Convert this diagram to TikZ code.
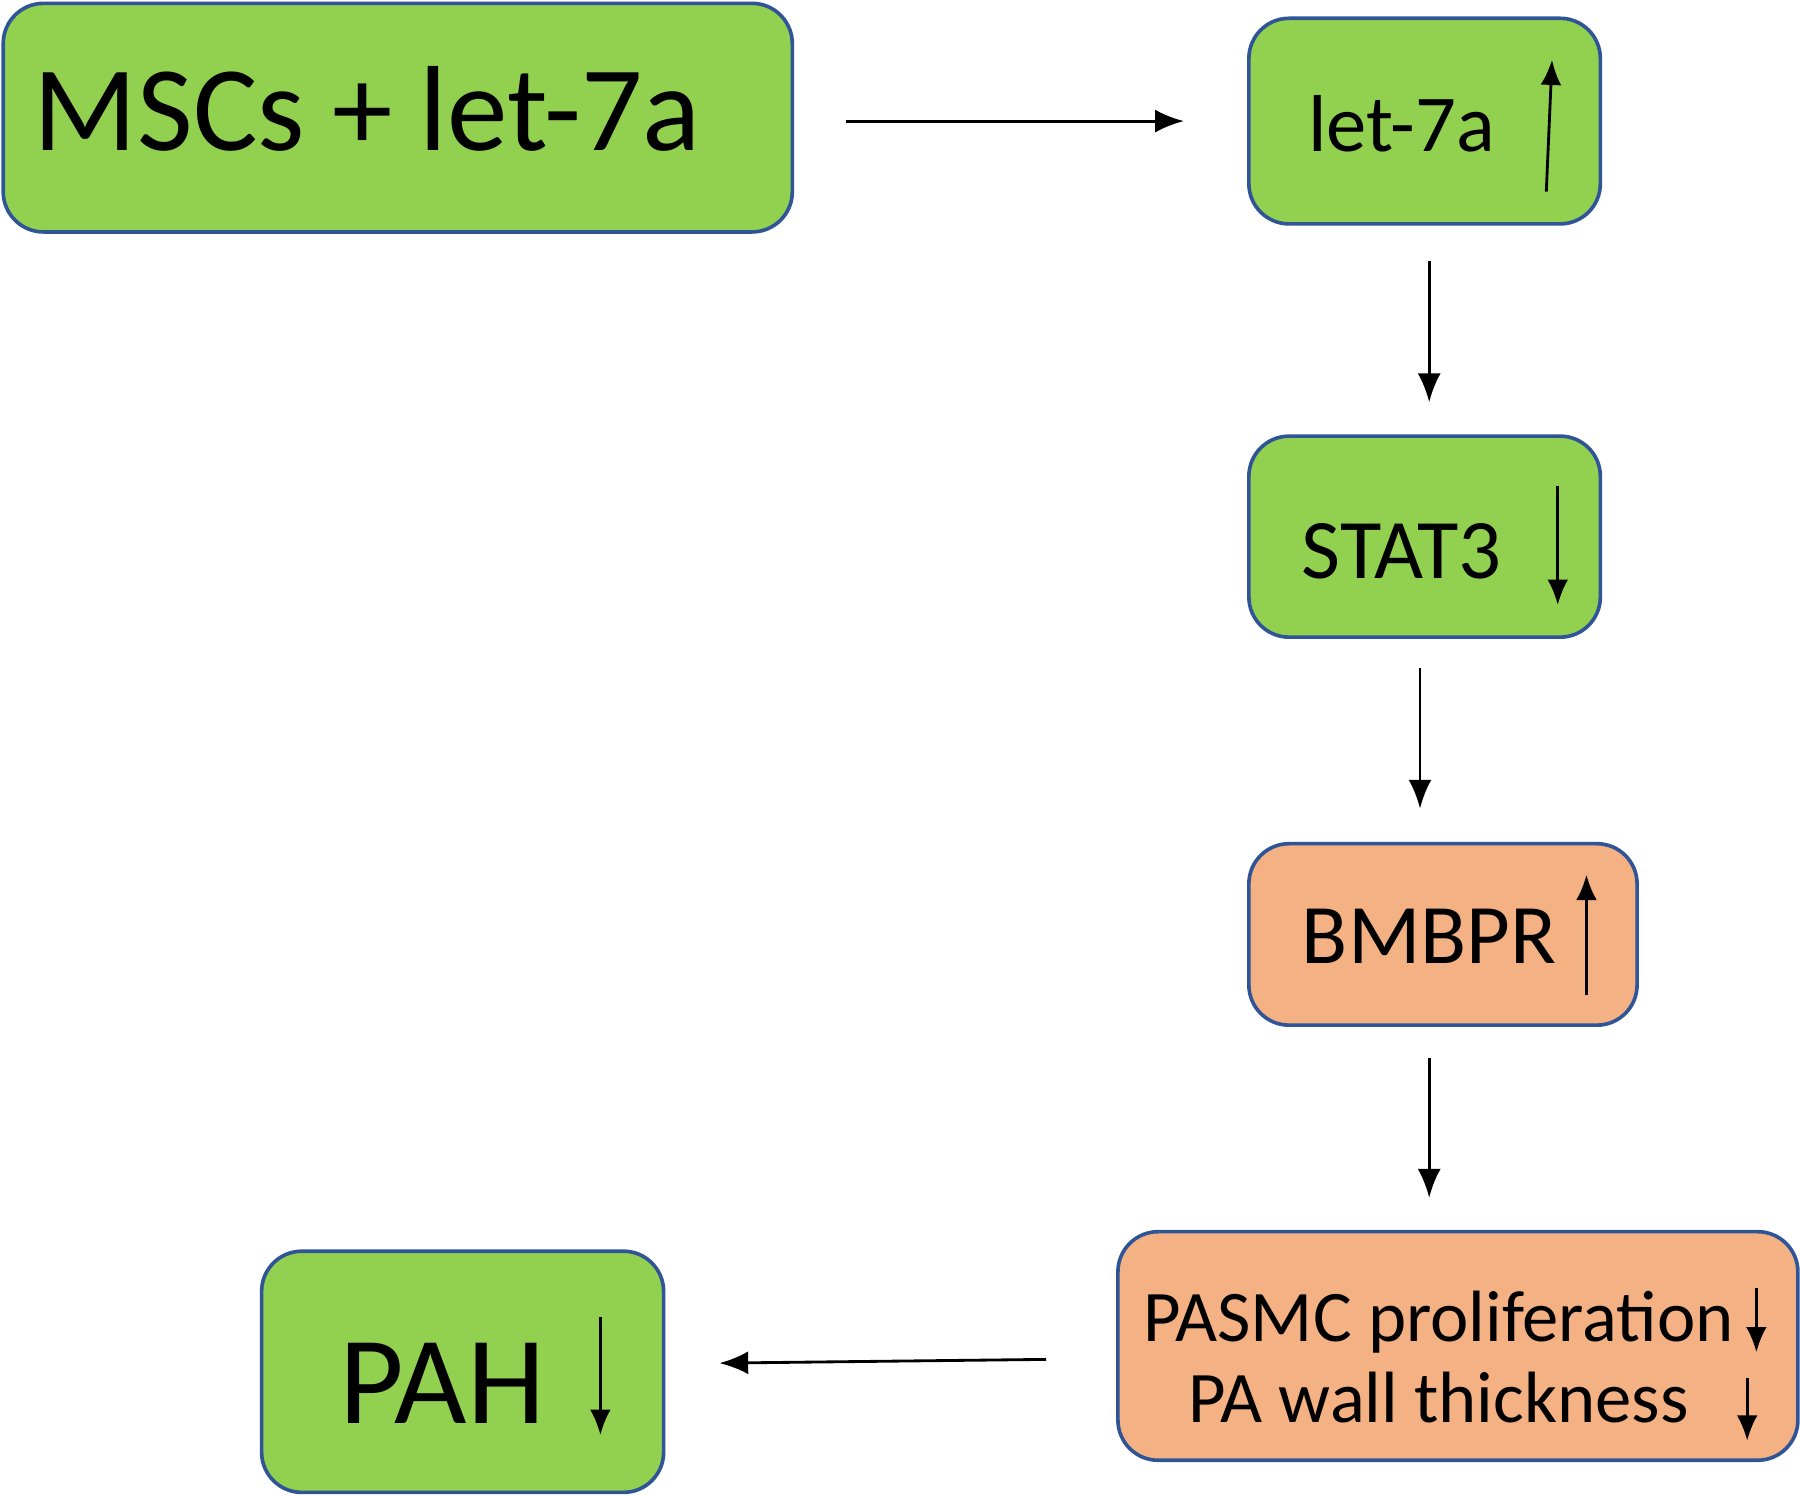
\documentclass[tikz,border=0pt]{standalone}
\usepackage{fontspec}
\setmainfont{Carlito}
\usetikzlibrary{positioning,arrows.meta}
\definecolor{boxgreen}{HTML}{92D050}
\definecolor{boxorange}{HTML}{F4B183}
\definecolor{boxline}{HTML}{2F5597}

\begin{document}
\begin{tikzpicture}[x=0.01cm,y=-0.01cm,
  box/.style={draw=boxline,line width=0.9pt,rounded corners=0.35cm,inner sep=0pt},
  gbox/.style={box,fill=boxgreen},
  obox/.style={box,fill=boxorange},
  flow/.style={-{Latex[length=0.25cm,width=0.2cm]},line width=0.7pt},
  trend/.style={-{Latex[length=0.22cm,width=0.18cm]},line width=0.7pt}]
\useasboundingbox (0,0) rectangle (1568,1304);
%the boxes
\node [gbox,minimum width=6.87cm,minimum height=1.99cm] (mscs) at (346.5,102.5) {};
\node [gbox,minimum width=3.06cm,minimum height=1.79cm] (let) at (1241,105.5) {};
\node [gbox,minimum width=3.06cm,minimum height=1.75cm] (stat) at (1241,467.5) {};
\node [obox,minimum width=3.38cm,minimum height=1.58cm] (bmbpr) at (1257,814) {};
\node [obox,minimum width=5.92cm,minimum height=1.99cm] (pasmc) at (1270,1172.5) {};
\node [gbox,minimum width=3.50cm,minimum height=2.10cm] (pah) at (403,1195) {};
%the texts
\node [font=\fontsize{30}{36}\selectfont] (mscsText) at (320,95) {MSCs + let-7a};
\node [font=\fontsize{20}{24}\selectfont] (letText) at (1221,108) {let-7a};
\node [font=\fontsize{21}{25}\selectfont] (statText) at (1221,480) {STAT3};
\node [font=\fontsize{21}{25}\selectfont] (bmbprText) at (1245,816) {BMBPR};
\node [font=\fontsize{18}{22}\selectfont,align=center] (pasmcText) at (1253,1182)
  {PASMC proliferation\\[-2pt]PA wall thickness};
\node [font=\fontsize{31}{37}\selectfont] (pahText) at (385,1205) {PAH};
%up and down marks
\draw[trend] (1347,167) -- (1352,52);
\draw[trend] (1357,423) -- (1357,527);
\draw[trend] (1382,867) -- (1382,762);
\draw[trend] (1530,1122) -- (1530,1178);
\draw[trend] (1522,1200) -- (1522,1255);
\draw[trend] (523,1147) -- (523,1250);
%drawings of lines
\draw[flow,shorten <=0.45cm,shorten >=0.55cm] (mscs.east |- let.west) -- (let.west);
\draw[flow,shorten <=0.31cm,shorten >=0.28cm] ([xshift=0.04cm]let.south) -- ([xshift=0.04cm]stat.north);
\draw[flow,shorten <=0.25cm,shorten >=0.29cm] ([xshift=-0.04cm]stat.south) -- ([xshift=-0.04cm]stat.south |- bmbpr.north);
\draw[flow,shorten <=0.27cm,shorten >=0.28cm] ([xshift=-0.12cm]bmbpr.south) -- ([xshift=-0.12cm]bmbpr.south |- pasmc.north);
\draw[flow,shorten <=0.61cm,shorten >=0.47cm] ([yshift=-0.11cm]pasmc.west) -- ([yshift=0.07cm]pah.east);
\end{tikzpicture}
\end{document}
